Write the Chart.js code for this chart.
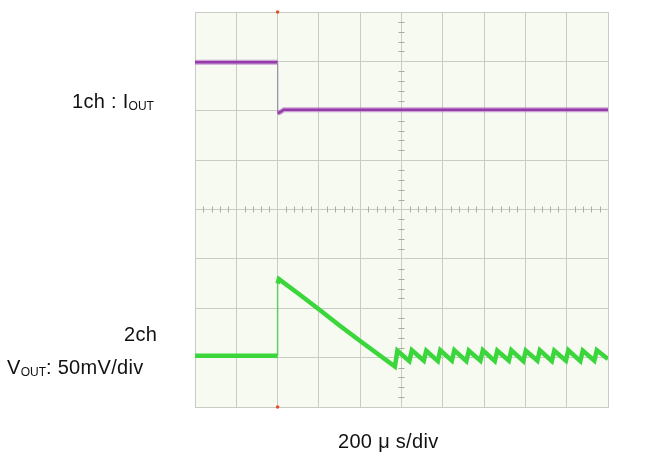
<!DOCTYPE html>
<html>
<head>
<meta charset="utf-8">
<script src="https://cdn.jsdelivr.net/npm/chart.js@4/dist/chart.umd.min.js"></script>
<style>
  html, body { margin: 0; padding: 0; background: #ffffff; }
  #wrap { position: relative; width: 664px; height: 460px; overflow: hidden; }
  #c { position: absolute; left: 0; top: 0; }
  .lbl { position: absolute; font-family: "Liberation Sans", Arial, sans-serif; font-size: 20px; color: #111; white-space: nowrap; line-height: 1; letter-spacing: 0.3px; }
  .lbl sub { font-size: 12px; vertical-align: baseline; position: relative; top: 2px; letter-spacing: 0; }
</style>
</head>
<body>
<div id="wrap">
  <canvas id="c" width="664" height="460"></canvas>
  <div class="lbl" id="l1" style="left:72px; top:91px;">1ch : I<sub>OUT</sub></div>
  <div class="lbl" id="l2" style="left:124px; top:324px;">2ch</div>
  <div class="lbl" id="l3" style="left:7px; top:357px;">V<sub>OUT</sub>: 50mV/div</div>
  <div class="lbl" id="l4" style="left:338px; top:431px;">200 μ s/div</div>
</div>
<script>
// Horizontal divisions (time, 200 µs/div) and vertical divisions
const xDivisions = [0, 10];
const yDivisions = [0, 8];

// 1ch : I_OUT (purple trace), positions in divisions
const iOutTime  = [0, 2.0, 2.0, 2.06, 2.15, 10];
const iOutValue = [6.98, 6.98, 5.95, 5.97, 6.02, 6.02];

// 2ch : V_OUT (green trace), positions in divisions
const vOutTime  = [0, 2.0, 2.0, 2.03, 2.5, 3.03, 3.5, 4.04, 4.84, 4.90,
                   5.19, 5.25, 5.54, 5.60, 5.88, 5.94, 6.22, 6.28, 6.57, 6.63,
                   6.91, 6.97, 7.26, 7.32, 7.60, 7.66, 7.95, 8.01, 8.29, 8.35,
                   8.64, 8.70, 8.98, 9.04, 9.33, 9.39, 9.67, 9.73, 10.0];
const vOutValue = [1.04, 1.04, 2.50, 2.59, 2.30, 1.96, 1.65, 1.31, 0.82, 1.14,
                   0.93, 1.15, 0.94, 1.14, 0.93, 1.15, 0.94, 1.15, 0.93, 1.14,
                   0.94, 1.15, 0.93, 1.14, 0.94, 1.15, 0.93, 1.14, 0.94, 1.15,
                   0.93, 1.14, 0.94, 1.15, 0.93, 1.14, 0.94, 1.15, 0.97];

// Trigger position
const triggerTime = [2.0];

function pts(t, v) { return t.map((x, i) => ({ x: x, y: v[i] })); }
const isStep = c => c.p0.parsed.x === c.p1.parsed.x;

const scopePlugin = {
  id: 'scope',
  beforeDraw(chart) {
    const { ctx, chartArea: a } = chart;
    ctx.save();
    ctx.fillStyle = '#f6faf1';
    ctx.fillRect(a.left, a.top, a.right - a.left, a.bottom - a.top);
    ctx.restore();
  },
  beforeDatasetsDraw(chart) {
    const { ctx, scales: { x, y } } = chart;
    const cx = x.getPixelForValue((xDivisions[0] + xDivisions[1]) / 2);
    const cy = y.getPixelForValue((yDivisions[0] + yDivisions[1]) / 2);
    ctx.save();
    ctx.strokeStyle = '#a9ada5';
    ctx.lineWidth = 1;
    ctx.beginPath();
    for (let i = 1; i < xDivisions[1] * 5; i++) {
      if (i % 5 === 0) continue;
      const px = Math.round(x.getPixelForValue(i / 5)) + 0.5;
      ctx.moveTo(px, cy - 3); ctx.lineTo(px, cy + 3);
    }
    for (let i = 1; i < yDivisions[1] * 5; i++) {
      if (i % 5 === 0) continue;
      const py = Math.round(y.getPixelForValue(i / 5)) + 0.5;
      ctx.moveTo(cx - 3, py); ctx.lineTo(cx + 3, py);
    }
    ctx.stroke();
    ctx.restore();
  },
  afterDraw(chart) {
    const { ctx, scales: { x, y } } = chart;
    ctx.save();
    ctx.fillStyle = '#e2502a';
    triggerTime.forEach(t => {
      const px = x.getPixelForValue(t);
      ctx.beginPath(); ctx.arc(px, y.getPixelForValue(yDivisions[1]), 1.8, 0, Math.PI * 2); ctx.fill();
      ctx.beginPath(); ctx.arc(px, y.getPixelForValue(yDivisions[0]), 1.8, 0, Math.PI * 2); ctx.fill();
    });
    ctx.restore();
  }
};

new Chart(document.getElementById('c'), {
  type: 'line',
  data: {
    datasets: [
      { data: pts(iOutTime, iOutValue), borderColor: 'rgba(170,90,190,0.55)', borderWidth: 5, pointRadius: 0, tension: 0,
        segment: { borderWidth: c => isStep(c) ? 1 : undefined, borderColor: c => isStep(c) ? 'rgba(160,150,170,0.5)' : undefined } },
      { data: pts(iOutTime, iOutValue), borderColor: '#7e1a93', borderWidth: 2.5, pointRadius: 0, tension: 0,
        segment: { borderWidth: c => isStep(c) ? 1 : undefined, borderColor: c => isStep(c) ? 'rgba(150,140,165,0.6)' : undefined } },
      { data: pts(vOutTime, vOutValue), borderColor: '#3bd63b', borderWidth: 4.5, pointRadius: 0, tension: 0,
        segment: { borderWidth: c => isStep(c) ? 1.5 : undefined, borderColor: c => isStep(c) ? 'rgba(70,200,70,0.75)' : undefined } }
    ]
  },
  options: {
    responsive: false,
    animation: false,
    devicePixelRatio: 1,
    layout: { padding: { left: 195, right: 56, top: 12, bottom: 53 } },
    plugins: { legend: { display: false }, tooltip: { enabled: false } },
    scales: {
      x: {
        type: 'linear', min: xDivisions[0], max: xDivisions[1],
        ticks: { display: false, stepSize: 1 },
        grid: { color: '#c9ccc4', lineWidth: 1, drawTicks: false },
        border: { color: '#c9ccc4' }
      },
      y: {
        type: 'linear', min: yDivisions[0], max: yDivisions[1],
        ticks: { display: false, stepSize: 1 },
        grid: { color: '#c9ccc4', lineWidth: 1, drawTicks: false },
        border: { color: '#c9ccc4' }
      }
    }
  },
  plugins: [scopePlugin]
});
</script>
</body>
</html>
